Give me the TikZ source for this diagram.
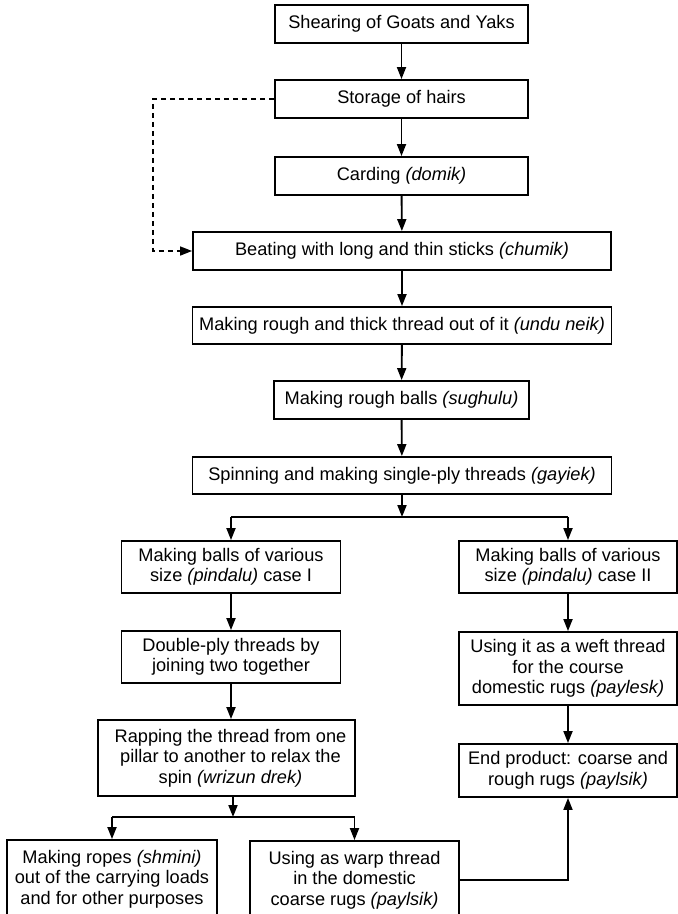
\documentclass[tikz,border=0pt]{standalone}
\usepackage{fontspec}
\setmainfont{Liberation Sans}
\usetikzlibrary{arrows.meta}
\begin{document}
\begin{tikzpicture}[x=1pt,y=-1pt,
  box/.style={draw=black,line width=1.9pt,align=center,inner sep=0pt,
    font=\fontsize{18.2}{20.5}\selectfont},
  arr/.style={line width=1.9pt,-{Triangle[length=12pt,width=9pt]}},
  ln/.style={line width=1.9pt},
  dsh/.style={line width=1.6pt,dash pattern=on 5pt off 4pt,-{Triangle[length=12pt,width=9pt]}}]
\useasboundingbox (0,0) rectangle (678,914);
\clip (0,0) rectangle (678,914);
\fill[white] (0,0) rectangle (678,914);

\node[box,minimum width=253pt,minimum height=38pt] (shear) at (401.5,24) {Shearing of Goats and Yaks};
\node[box,minimum width=253pt,minimum height=38pt] (store) at (401.5,99) {Storage of hairs};
\node[box,minimum width=253pt,minimum height=38pt] (card) at (401.5,176) {Carding \textit{(domik)}};
\node[box,minimum width=418pt,minimum height=38pt] (beat) at (402,251) {Beating with long and thin sticks \textit{(chumik)}};
\node[box,minimum width=419pt,minimum height=37pt] (thick) at (402,325.5) {Making rough and thick thread out of it \textit{(undu neik)}};
\node[box,minimum width=255pt,minimum height=38pt] (balls) at (401.5,400) {Making rough balls \textit{(sughulu)}};
\node[box,minimum width=419pt,minimum height=37pt] (spin) at (402,475.5) {Spinning and making single-ply threads \textit{(gayiek)}};

\node[box,minimum width=219pt,minimum height=52pt] (case1) at (231,567) {Making balls of various\\size \textit{(pindalu)} case I};
\node[box,minimum width=218pt,minimum height=52pt] (case2) at (568,567) {Making balls of various\\size \textit{(pindalu)} case II};
\node[box,minimum width=219pt,minimum height=52pt] (dbl) at (231,657) {Double-ply threads by\\joining two together};
\node[box,minimum width=218pt,minimum height=73pt] (weft) at (568,668.5) {Using it as a weft thread\\for the course\\domestic rugs \textit{(paylesk)}};
\node[box,minimum width=218pt,minimum height=53pt] (endp) at (568,770.5) {End product: coarse and\\rough rugs \textit{(paylsik)}};
\node[box,minimum width=257pt,minimum height=76pt] (rap) at (226.5,758) {\hspace*{8pt}Rapping the thread from one\\\hspace*{8pt}pillar to another to relax the\\\hspace*{8pt}spin \textit{(wrizun drek)}};
\node[box,minimum width=210pt,minimum height=78pt] (ropes) at (112,879) {Making ropes \textit{(shmini)}\\out of the carrying loads\\and for other purposes};
\node[box,minimum width=209pt,minimum height=78pt] (warp) at (354.5,880) {Using as warp thread\\in the domestic\\coarse rugs \textit{(paylsik)}};

\draw[arr] (shear) -- (store);
\draw[arr] (store) -- (card);
\draw[arr] (card) -- (beat);
\draw[arr] (beat) -- (thick);
\draw[arr] (thick) -- (balls);
\draw[arr] (balls) -- (spin);

\coordinate (st) at (153,99);
\draw[dsh] (store.west) -- (st) |- (beat.west);

\coordinate (j1) at (402,517);
\draw[arr] (spin.south) -- (j1);
\draw[ln] (j1 -| case1.north) -- (j1 -| case2.north);
\draw[arr] (j1 -| case1.north) -- (case1.north);
\draw[arr] (j1 -| case2.north) -- (case2.north);

\draw[arr] (case1) -- (dbl);
\draw[arr] (dbl.south) -- (dbl.south |- rap.north);
\draw[arr] (case2) -- (weft);
\draw[arr] (weft) -- (endp);

\coordinate (j2) at (233,817);
\draw[arr] (rap.south -| j2) -- (j2);
\draw[ln] (j2 -| ropes.north) -- (j2 -| warp.north);
\draw[arr] (j2 -| ropes.north) -- (ropes.north);
\draw[arr] (j2 -| warp.north) -- (warp.north);

\draw[arr] (warp.east) -| (endp.south);
\end{tikzpicture}
\end{document}
